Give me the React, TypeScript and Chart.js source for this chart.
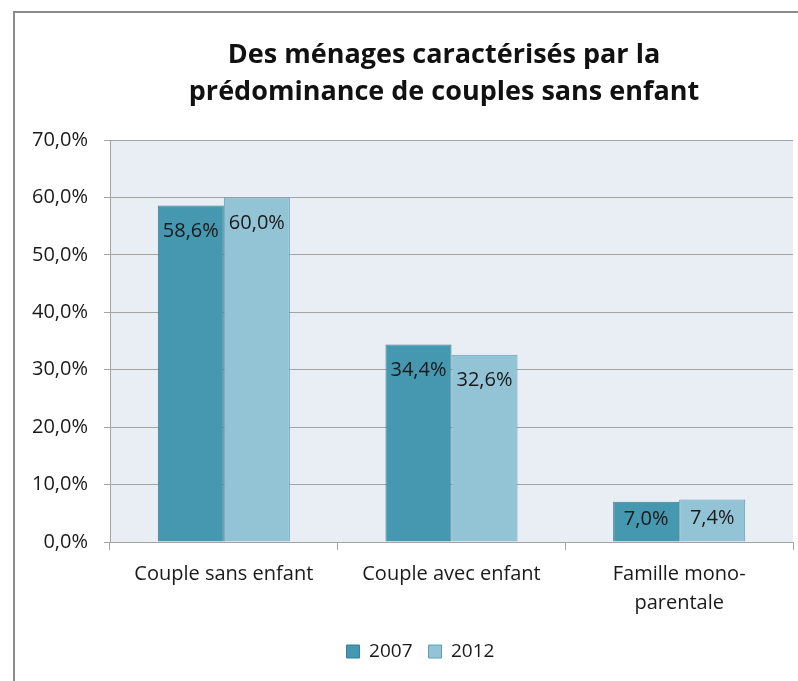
import React, { useEffect, useRef } from "react";
import { Chart, registerables } from "chart.js";

Chart.register(...registerables);

const CATEGORIES: string[][] = [["Couple sans enfant"], ["Couple avec enfant"], ["Famille mono-", "parentale"]];
const SERIES_NAMES = ["2007", "2012"];
const VALUES_2007 = [58.6, 34.4, 7.0];
const VALUES_2012 = [60.0, 32.6, 7.4];
const TITLE_LINES = ["Des ménages caractérisés par la", "prédominance de couples sans enfant"];
const Y_MIN = 0;
const Y_MAX = 70;
const Y_STEP = 10;

const FONT = "'Open Sans', sans-serif";
const TEXT_COLOR = "#1a1a1a";
const GRID_COLOR = "#a3a3a3";
const PLOT_BG = "#e9eef5";
const COLORS = ["#4598b0", "#93c4d6"];
const BORDERS = ["#377f94", "#5e9fb5"];

const fmt = (v: number) => v.toFixed(1).replace(".", ",") + "%";

const backgroundPlugin = {
  id: "bgPlugin",
  afterLayout(chart: any) {
    if (chart.legend) {
      chart.legend.left = 48;
      chart.legend.right = 793;
    }
  },
  beforeDraw(chart: any) {
    const { ctx, chartArea } = chart;
    ctx.save();
    ctx.fillStyle = "#ffffff";
    ctx.fillRect(0, 0, chart.width, chart.height);
    ctx.strokeStyle = "#8c8c8c";
    ctx.lineWidth = 2;
    ctx.beginPath();
    ctx.moveTo(14, chart.height);
    ctx.lineTo(14, 12);
    ctx.lineTo(chart.width, 12);
    ctx.stroke();
    ctx.fillStyle = PLOT_BG;
    ctx.fillRect(chartArea.left, chartArea.top, chartArea.right - chartArea.left, chartArea.bottom - chartArea.top);
    ctx.restore();
  },
};

const titlePlugin = {
  id: "titleLines",
  afterDraw(chart: any) {
    const { ctx } = chart;
    ctx.save();
    ctx.fillStyle = "#111111";
    ctx.font = `bold 27px ${FONT}`;
    ctx.textAlign = "center";
    ctx.textBaseline = "alphabetic";
    const baselines = [63, 100];
    TITLE_LINES.forEach((line, i) => ctx.fillText(line, 444, baselines[i]));
    ctx.restore();
  },
};

const labelPlugin = {
  id: "barLabels",
  afterDatasetsDraw(chart: any) {
    const { ctx } = chart;
    ctx.save();
    ctx.fillStyle = TEXT_COLOR;
    ctx.font = `20px ${FONT}`;
    ctx.textAlign = "center";
    ctx.textBaseline = "middle";
    chart.data.datasets.forEach((ds: any, i: number) => {
      const meta = chart.getDatasetMeta(i);
      meta.data.forEach((bar: any, j: number) => {
        const { x, y, base } = bar.getProps(["x", "y", "base"], true);
        const h = base - y;
        const off = Math.min(26, h / 2 - 2);
        ctx.fillText(fmt(ds.data[j]), x, y + off);
      });
    });
    ctx.restore();
  },
};

export default function App() {
  const ref = useRef<HTMLCanvasElement>(null);
  useEffect(() => {
    if (!ref.current) return;
    const chart = new Chart(ref.current, {
      type: "bar",
      data: {
        labels: CATEGORIES,
        datasets: [
          {
            label: SERIES_NAMES[0],
            data: VALUES_2007,
            backgroundColor: COLORS[0],
            borderColor: BORDERS[0],
            borderWidth: 1,
            categoryPercentage: 0.58,
            barPercentage: 1,
          },
          {
            label: SERIES_NAMES[1],
            data: VALUES_2012,
            backgroundColor: COLORS[1],
            borderColor: BORDERS[1],
            borderWidth: 1,
            categoryPercentage: 0.58,
            barPercentage: 1,
          },
        ],
      },
      options: {
        responsive: false,
        animation: false,
        devicePixelRatio: 1,
        layout: { padding: { left: 16, right: 5, top: 140, bottom: 10 } },
        plugins: {
          title: { display: false },
          tooltip: { enabled: false },
          legend: {
            position: "bottom",
            labels: {
              boxWidth: 13,
              boxHeight: 13,
              padding: 16,
              color: TEXT_COLOR,
              font: { family: FONT, size: 19 },
            },
          },
        },
        scales: {
          x: {
            grid: {
              display: true,
              drawOnChartArea: false,
              drawTicks: true,
              tickLength: 8,
              color: GRID_COLOR,
              offset: true,
            },
            border: { display: true, color: GRID_COLOR },
            ticks: {
              color: TEXT_COLOR,
              padding: 10,
              maxRotation: 0,
              font: { family: FONT, size: 20, lineHeight: 1.45 },
            },
            afterFit: (s: any) => {
              s.height = 84;
            },
          },
          y: {
            min: Y_MIN,
            max: Y_MAX,
            ticks: {
              stepSize: Y_STEP,
              color: TEXT_COLOR,
              padding: 16,
              font: { family: FONT, size: 20 },
              callback: function (value: any) {
                return fmt(Number(value));
              },
            },
            grid: { color: GRID_COLOR, tickLength: 6 },
            border: { display: true, color: GRID_COLOR },
            afterFit: (s: any) => {
              s.width = 94;
            },
          },
        },
      },
      plugins: [backgroundPlugin, titlePlugin, labelPlugin],
    });
    return () => chart.destroy();
  }, []);
  return (
    <div style={{ position: "absolute", left: 0, top: 0, width: 798, height: 681 }}>
      <canvas ref={ref} width={798} height={681} />
    </div>
  );
}
